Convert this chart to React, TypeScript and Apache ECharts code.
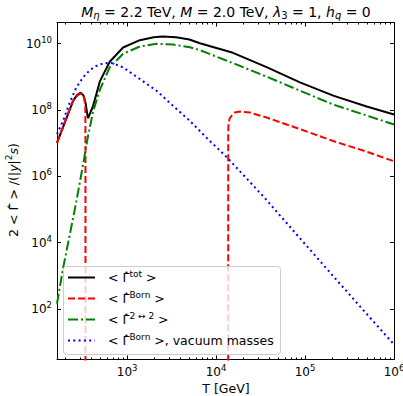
import React, { useEffect, useRef } from 'react';
import * as echarts from 'echarts';

const FONT = 'DejaVu Sans';

// axis ranges (T in GeV, rate values)
const T_RANGE = [163, 1e6];
const RATE_RANGE = [3.0, 4.3e10];
const X_MAJOR = [1e3, 1e4, 1e5, 1e6];
const X_MINOR = [
  200, 300, 400, 500, 600, 700, 800, 900,
  2000, 3000, 4000, 5000, 6000, 7000, 8000, 9000,
  2e4, 3e4, 4e4, 5e4, 6e4, 7e4, 8e4, 9e4,
  2e5, 3e5, 4e5, 5e5, 6e5, 7e5, 8e5, 9e5,
];
const Y_MAJOR = [1e2, 1e4, 1e6, 1e8, 1e10];

// <Gamma^tot>
const totT = [163, 200, 247, 275, 301, 324, 343, 359, 366, 380, 415, 493, 638, 902, 1390, 1995, 2512, 3548, 5012, 6577, 15488, 36983, 87700, 207500, 493200, 1e6];
const totRate = [1.02e7, 4.17e7, 1.86e8, 2.82e8, 3.31e8, 2.69e8, 1.51e8, 6.61e7, 5.62e7, 7.41e7, 1.32e8, 7.08e8, 2.82e9, 7.59e9, 1.26e10, 1.55e10, 1.62e10, 1.55e10, 1.32e10, 1.02e10, 5.25e9, 1.95e9, 6.76e8, 2.69e8, 1.26e8, 7.24e7];

// <Gamma^Born> low-T branch
const bornLowT = [163, 208, 247, 275, 301, 320, 331, 339, 340.3, 341];
const bornLowRate = [1.02e7, 5.89e7, 1.86e8, 2.69e8, 3.16e8, 2.82e8, 2.14e8, 1.26e8, 3.16e7, 1e-5];

// <Gamma^Born> high-T branch
const bornHighT = [13680, 13700, 13800, 14200, 14930, 16218, 18535, 23988, 36983, 87700, 207500, 493200, 1e6];
const bornHighRate = [1e-5, 2.0e7, 3.5e7, 5.5e7, 6.6e7, 8.3e7, 8.9e7, 8.32e7, 5.89e7, 2.63e7, 1.15e7, 5.5e6, 2.82e6];

// <Gamma^{2<->2}>
const twoT = [163, 190.5, 226.5, 269, 320, 363, 415, 493, 638, 902, 1390, 2138, 3289, 5070, 6577, 15488, 36983, 87700, 207500, 493200, 1e6];
const twoRate = [1.45e2, 1.66e3, 1.7e4, 1.74e5, 2.24e6, 1.58e7, 8.91e7, 3.98e8, 1.91e9, 4.9e9, 8.13e9, 9.77e9, 9.33e9, 7.76e9, 6.31e9, 2.57e9, 1.0e9, 3.8e8, 1.45e8, 6.76e7, 3.63e7];

// <Gamma^Born>, vacuum masses
const vacT = [163, 190.5, 226.5, 269, 320, 381, 447, 537, 631, 697, 902, 1390, 2138, 3289, 5070, 7816, 13122, 35400, 87700, 207500, 493200, 1e6];
const vacRate = [1.86e7, 4.68e7, 1.66e8, 4.79e8, 9.55e8, 1.58e9, 2.09e9, 2.51e9, 2.63e9, 2.51e9, 1.91e9, 8.51e8, 3.8e8, 1.32e8, 4.68e7, 1.45e7, 3.8e6, 2.19e5, 1.35e4, 977, 70.8, 8.51];

const lg = Math.log10;
const pts = (xs: number[], ys: number[]) => xs.map((x, i) => [lg(x), lg(ys[i])]);

const DASH = [7, 3];
const DASHDOT = [10, 3, 2, 3];
const DOT = [2, 3.3];

const supRich = {
  b: { fontFamily: FONT, fontSize: 12, color: '#000', lineHeight: 14 },
  s: { fontFamily: FONT, fontSize: 8.5, color: '#000', lineHeight: 10, padding: [0, 0, 8, 0] },
};

export default function App() {
  const ref = useRef<HTMLDivElement>(null);
  useEffect(() => {
    if (!ref.current) return;
    const chart = echarts.init(ref.current, undefined, { renderer: 'svg' });
    const xMin = lg(T_RANGE[0]);
    const xMax = lg(T_RANGE[1]);
    const yMin = lg(RATE_RANGE[0]);
    const yMax = lg(RATE_RANGE[1]);
    const xMaj = X_MAJOR.map(lg);
    const xMin2 = X_MINOR.map(lg).filter((v) => v >= xMin && v <= xMax);
    const yMaj = Y_MAJOR.map(lg);
    const fmt = (v: number) => `{b|10}{s|${Math.round(v)}}`;
    const baseX = {
      type: 'value',
      min: xMin,
      max: xMax,
      splitLine: { show: false },
      axisLine: { show: true, onZero: false, lineStyle: { color: '#000', width: 1 } },
    };
    const baseY = {
      type: 'value',
      min: yMin,
      max: yMax,
      splitLine: { show: false },
      axisLine: { show: true, onZero: false, lineStyle: { color: '#000', width: 1 } },
    };
    const lineSeries = (data: number[][], color: string, type: any, z: number) => ({
      type: 'line',
      data,
      showSymbol: false,
      symbol: 'none',
      clip: true,
      z,
      lineStyle: { color, width: 2, type, cap: 'butt' },
    });
    const legendItems = [
      { color: '#000000', dash: null, rich: '{t|< }{g|Γ\u0302}{s|tot}{t| >}' },
      { color: '#ff0000', dash: DASH, rich: '{t|< }{g|Γ\u0302}{s|Born}{t| >}' },
      { color: '#008000', dash: DASHDOT, rich: '{t|< }{g|Γ\u0302}{s|2 ↔ 2}{t| >}' },
      { color: '#0000ff', dash: DOT, rich: '{t|< }{g|Γ\u0302}{s|Born}{t| >, vacuum masses}' },
    ];
    const legRich = {
      t: { fontFamily: FONT, fontSize: 12.5, color: '#000', lineHeight: 15 },
      g: { fontFamily: FONT, fontSize: 12.5, color: '#000', lineHeight: 15 },
      s: { fontFamily: FONT, fontSize: 9, color: '#000', lineHeight: 11, padding: [0, 0, 8, 0] },
    };
    const graphic: any[] = [
      {
        type: 'rect',
        z: 100,
        shape: { x: 63.5, y: 266.5, width: 217, height: 88, r: 3 },
        style: { fill: 'rgba(255,255,255,0.8)', stroke: '#cccccc', lineWidth: 1 },
      },
    ];
    legendItems.forEach((it, i) => {
      const y = 277.5 + i * 21;
      graphic.push({
        type: 'line',
        z: 101,
        shape: { x1: 68, y1: y, x2: 95, y2: y },
        style: { stroke: it.color, lineWidth: 2, lineDash: it.dash || undefined, lineCap: 'butt' },
      });
      graphic.push({
        type: 'text',
        z: 101,
        x: 108,
        y,
        style: { text: it.rich, rich: legRich, verticalAlign: 'middle', align: 'left' },
      });
    });
    // title
    const titleRich = {
      t: { fontFamily: FONT, fontSize: 14, color: '#000', lineHeight: 17 },
      i: { fontFamily: FONT, fontSize: 14, fontStyle: 'italic', color: '#000', lineHeight: 17 },
      sb: { fontFamily: FONT, fontSize: 10, fontStyle: 'italic', color: '#000', lineHeight: 12, padding: [7, 0, 0, 0] },
      sn: { fontFamily: FONT, fontSize: 10, color: '#000', lineHeight: 12, padding: [7, 0, 0, 0] },
    };
    graphic.push({
      type: 'text',
      x: 226,
      y: 12,
      style: {
        text: '{i|M}{sb|η}{t| = 2.2 TeV, }{i|M}{t| = 2.0 TeV, }{i|λ}{sn|3}{t| = 1, }{i|h}{sb|q}{t| = 0}',
        rich: titleRich,
        align: 'center',
        verticalAlign: 'middle',
      },
    });
    // x axis title
    graphic.push({
      type: 'text',
      x: 226,
      y: 388,
      style: {
        text: 'T [GeV]',
        fontFamily: FONT,
        fontSize: 12.5,
        fill: '#000',
        align: 'center',
        verticalAlign: 'middle',
      },
    });
    // y axis title
    const yRich = {
      t: { fontFamily: FONT, fontSize: 12.5, color: '#000', lineHeight: 15 },
      i: { fontFamily: FONT, fontSize: 12.5, fontStyle: 'italic', color: '#000', lineHeight: 15 },
      s: { fontFamily: FONT, fontSize: 9, color: '#000', lineHeight: 11, padding: [0, 0, 8, 0] },
    };
    graphic.push({
      type: 'text',
      x: 13,
      y: 190,
      rotation: Math.PI / 2,
      style: {
        text: '{t|2 < Γ\u0302 > /(|}{i|y}{t||}{s|2}{i|s}{t|)}',
        rich: yRich,
        align: 'center',
        verticalAlign: 'middle',
      },
    });

    chart.setOption({
      animation: false,
      backgroundColor: '#ffffff',
      grid: { left: 57, top: 22.5, width: 337, height: 337, containLabel: false, outerBoundsMode: 'none' },
      xAxis: [
        {
          ...baseX,
          position: 'bottom',
          axisTick: { show: true, inside: true, length: 4, customValues: xMaj, lineStyle: { color: '#000', width: 1 } },
          axisLabel: { show: true, customValues: xMaj, margin: 5, formatter: fmt, rich: supRich },
        },
        {
          ...baseX,
          position: 'bottom',
          axisLine: { show: false },
          axisTick: { show: true, inside: true, length: 2, customValues: xMin2, lineStyle: { color: '#000', width: 1 } },
          axisLabel: { show: false },
        },
        {
          ...baseX,
          position: 'top',
          axisTick: { show: true, inside: true, length: 4, customValues: xMaj, lineStyle: { color: '#000', width: 1 } },
          axisLabel: { show: false },
        },
        {
          ...baseX,
          position: 'top',
          axisLine: { show: false },
          axisTick: { show: true, inside: true, length: 2, customValues: xMin2, lineStyle: { color: '#000', width: 1 } },
          axisLabel: { show: false },
        },
      ],
      yAxis: [
        {
          ...baseY,
          position: 'left',
          axisTick: { show: true, inside: true, length: 4, customValues: yMaj, lineStyle: { color: '#000', width: 1 } },
          axisLabel: { show: true, customValues: yMaj, margin: 5, formatter: fmt, rich: supRich },
        },
        {
          ...baseY,
          position: 'right',
          axisTick: { show: true, inside: true, length: 4, customValues: yMaj, lineStyle: { color: '#000', width: 1 } },
          axisLabel: { show: false },
        },
      ],
      series: [
        lineSeries(pts(totT, totRate), '#000000', 'solid', 3),
        lineSeries(pts(bornLowT, bornLowRate), '#ff0000', DASH, 4),
        lineSeries(pts(bornHighT, bornHighRate), '#ff0000', DASH, 4),
        lineSeries(pts(twoT, twoRate), '#008000', DASHDOT, 5),
        lineSeries(pts(vacT, vacRate), '#0000ff', DOT, 6),
      ],
      graphic,
    });
    return () => chart.dispose();
  }, []);
  return <div ref={ref} style={{ position: 'fixed', left: 0, top: 0, width: 403, height: 396 }} />;
}
